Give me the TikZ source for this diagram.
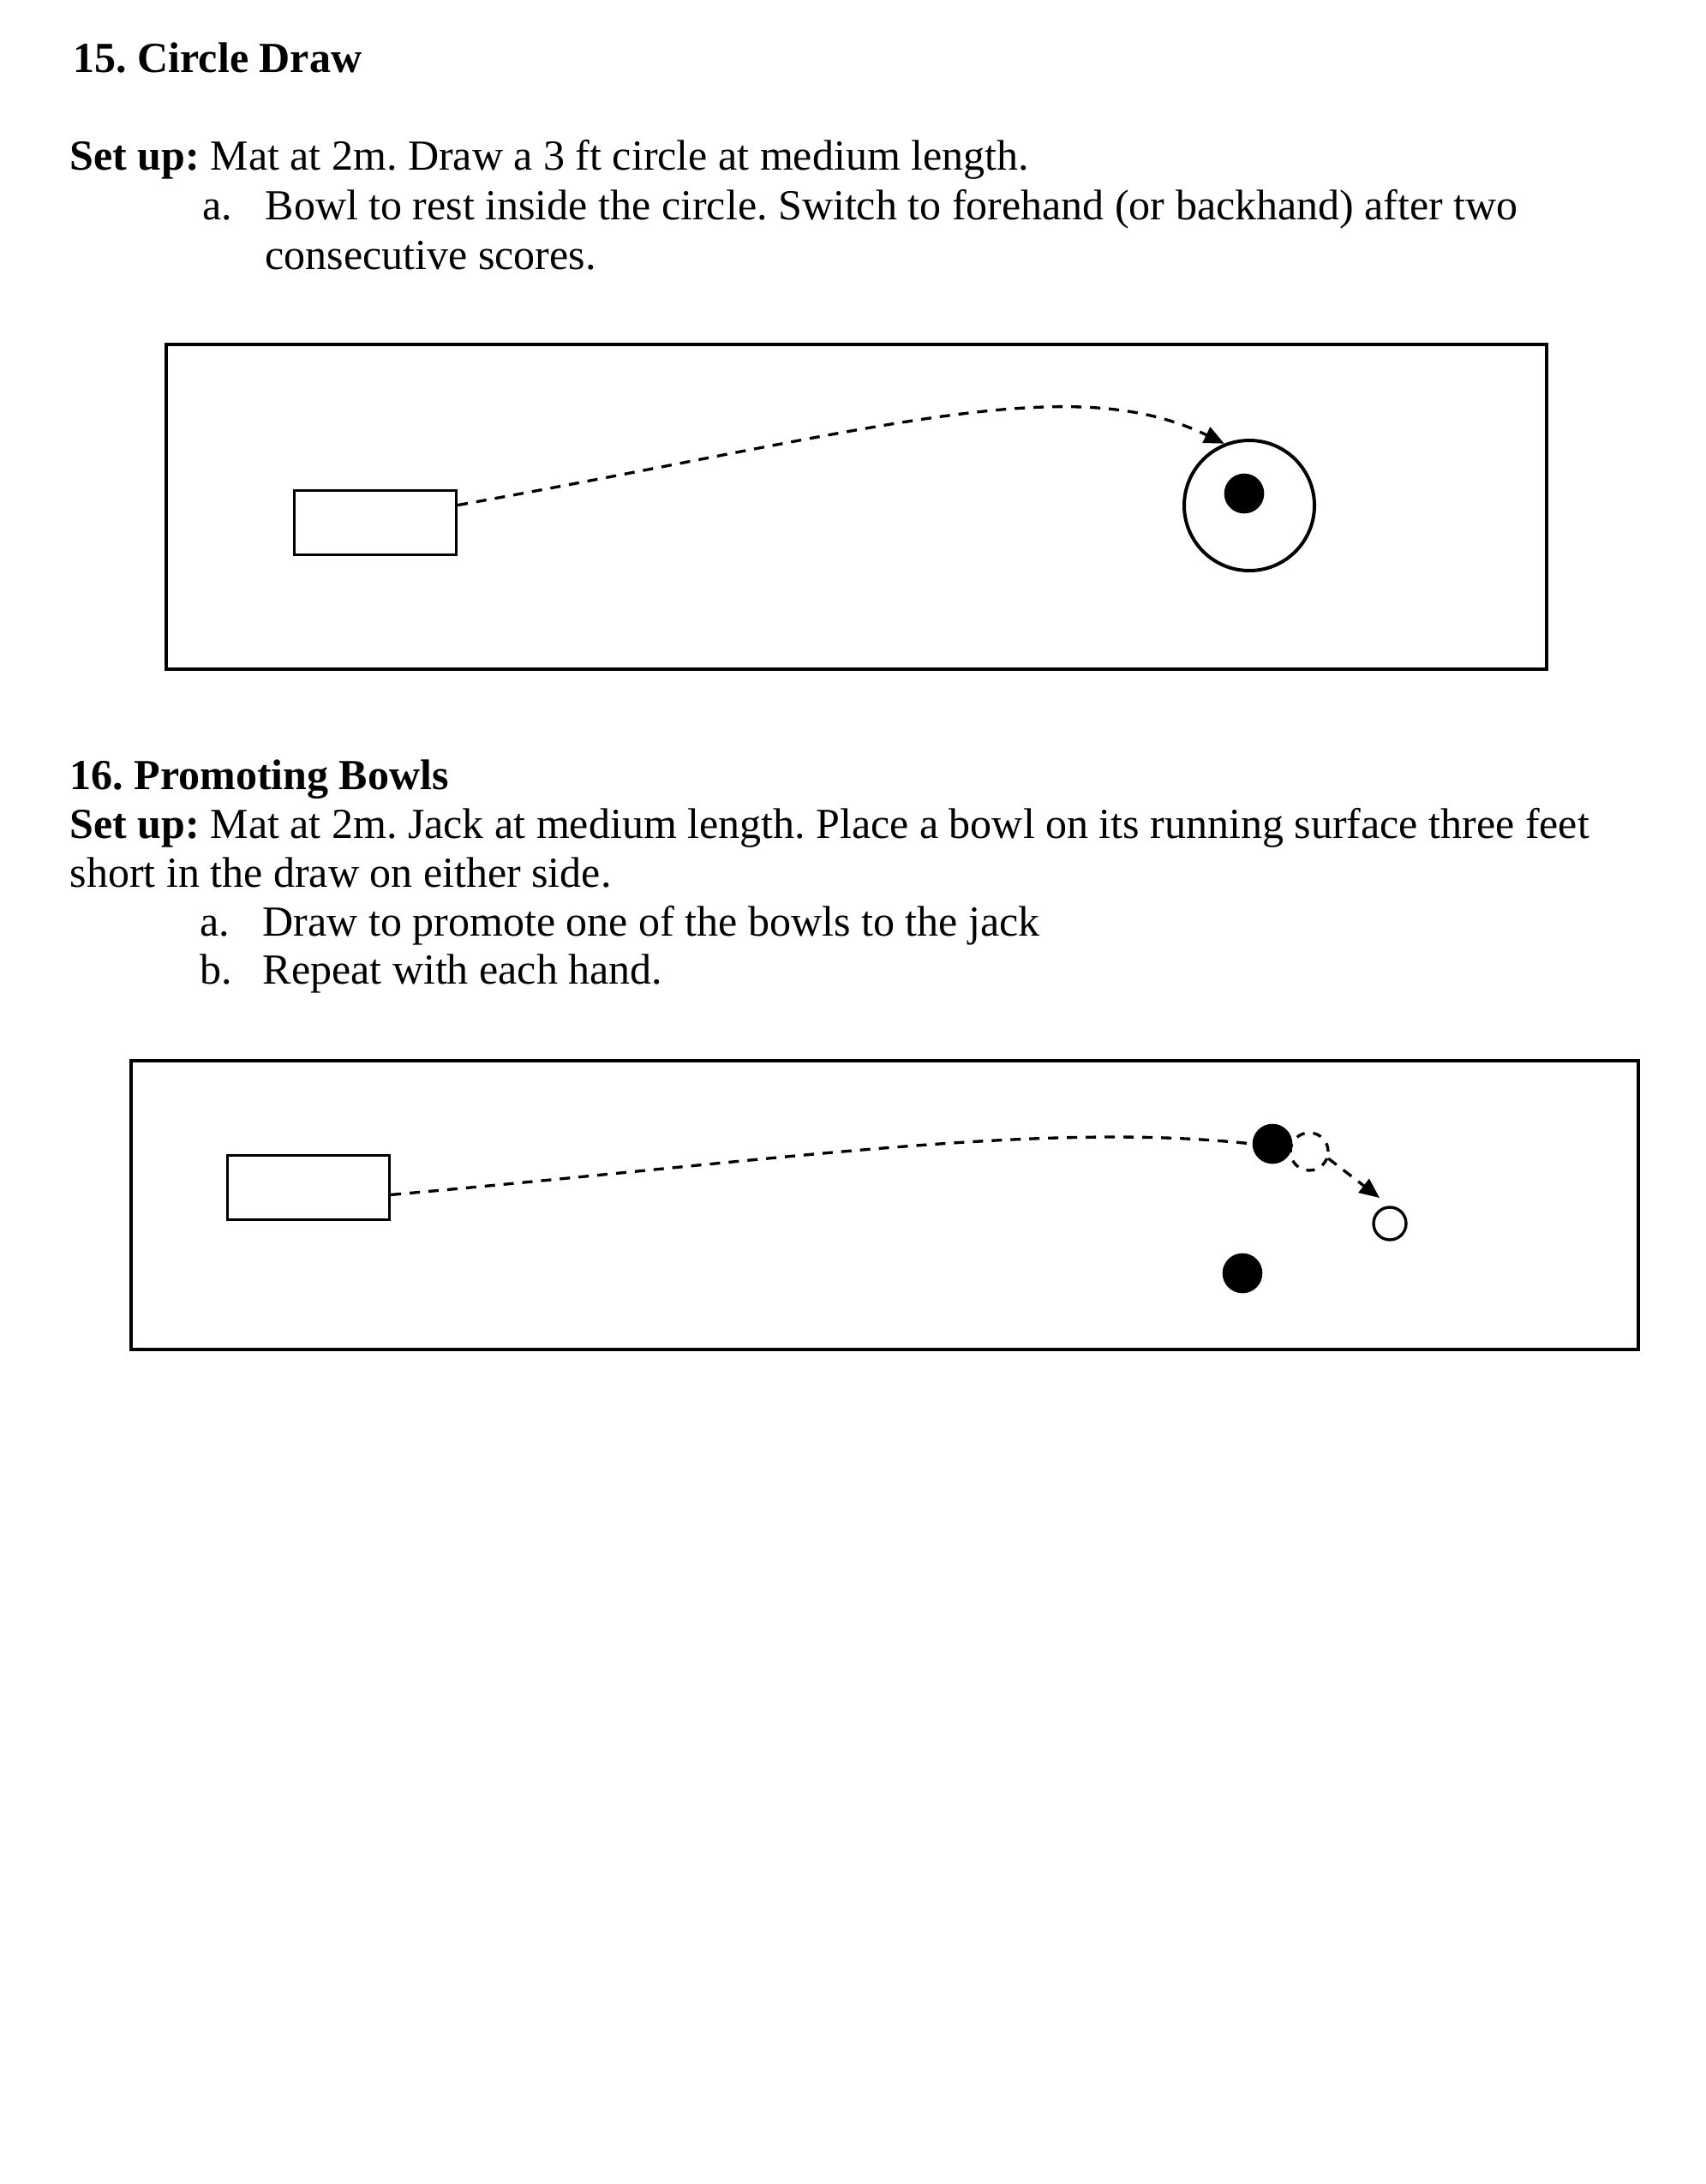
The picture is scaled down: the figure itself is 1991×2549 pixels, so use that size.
\documentclass[tikz,border=0pt]{standalone}
\usepackage{fontspec}
\setmainfont{Liberation Serif}
\usetikzlibrary{positioning,arrows.meta,shapes}
\frenchspacing

\begin{document}
\begin{tikzpicture}[x=0.3pt,y=-0.3pt,
		txt/.style={anchor=base west,inner sep=0pt,font=\fontsize{15}{18}\selectfont},
		title/.style={txt,font=\fontsize{15}{18}\selectfont\bfseries},
		mat/.style={draw,line width=1pt,rectangle,minimum width=56.7pt,minimum height=22.5pt,inner sep=0pt},
		ring/.style={draw,line width=1.2pt,circle,minimum size=45.6pt,inner sep=0pt},
		bowl/.style={fill,circle,minimum size=14pt,inner sep=0pt},
		ghost/.style={draw,line width=1pt,dash pattern=on 3pt off 3pt,circle,minimum size=13.2pt,inner sep=0pt},
		jack/.style={draw,line width=1pt,circle,minimum size=11.4pt,inner sep=0pt},
		path/.style={line width=1pt,dash pattern=on 3.6pt off 3pt},
		flight/.style={path,-{Triangle[length=7pt,width=6pt]}}]
	\useasboundingbox (0,0) rectangle (1991,2549);
	% Drill 15: circle draw
	\node[title] (title1) at (85,85) {15. Circle Draw};
	\node[txt] (setup1) at (81,199) {\textbf{Set up:} Mat at 2m. Draw a 3 ft circle at medium length.};
	\node[txt] (lbl1a) at (236,256) {a.};
	\node[txt] (item1a) at (309,256) {Bowl to rest inside the circle. Switch to forehand (or backhand) after two};
	\node[txt] (item1b) at (309,314) {consecutive scores.};
	\draw[line width=1pt] (194,402) rectangle (1805,781);
	\node[mat] (mat1) at (438,610) {};
	\node[ring] (ring) at (1458,590) {};
	\node[bowl] (target) at (1452,576) {};
	\draw[flight] (mat1.12) .. controls (1024,502) and (1247,430) .. (ring.112);
	% Drill 16: promoting bowls
	\node[title] (title2) at (81,921) {16. Promoting Bowls};
	\node[txt] (setup2) at (81,978) {\textbf{Set up:} Mat at 2m. Jack at medium length. Place a bowl on its running surface three feet};
	\node[txt] (setup2b) at (81,1035) {short in the draw on either side.};
	\node[txt] (lbl2a) at (233,1092) {a.};
	\node[txt] (item2a) at (306,1092) {Draw to promote one of the bowls to the jack};
	\node[txt] (lbl2b) at (233,1148) {b.};
	\node[txt] (item2b) at (306,1148) {Repeat with each hand.};
	\draw[line width=1pt] (153,1238) rectangle (1912,1575);
	\node[mat] (mat2) at (360,1386) {};
	\node[bowl] (bowl1) at (1485,1335) {};
	\node[ghost] (ghost) at (1528,1344) {};
	\node[bowl] (bowl2) at (1450,1486) {};
	\node[jack] (jack) at (1622,1428) {};
	\coordinate (hit) at (1610,1398);
	\draw[path] (mat2.-5) .. controls (903,1355) and (1213,1308) .. (bowl1.west);
	\draw[flight] (ghost.-20) -- (hit);
\end{tikzpicture}
\end{document}
